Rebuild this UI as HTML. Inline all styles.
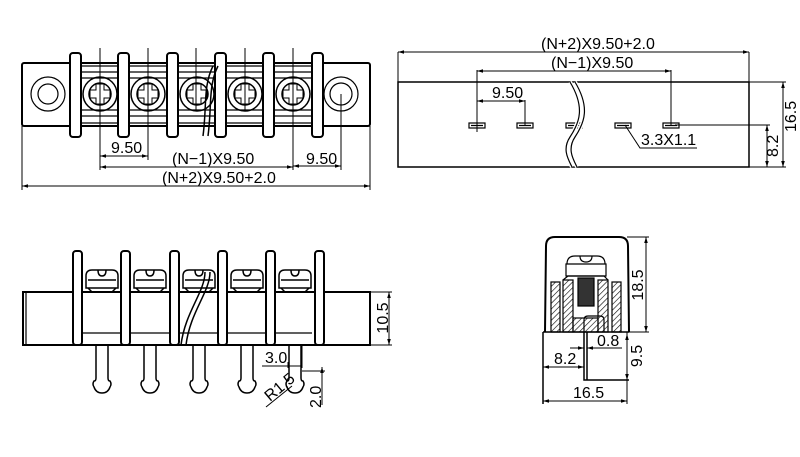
<!DOCTYPE html>
<html><head><style>body{margin:0;background:#fff}svg{display:block}text{font-family:"Liberation Sans",sans-serif;fill:#000}</style></head><body>
<svg width="800" height="457" viewBox="0 0 800 457" xmlns="http://www.w3.org/2000/svg" fill="none" stroke="#000" stroke-width="1.2">
<defs>
<pattern id="h" width="4" height="4" patternUnits="userSpaceOnUse" patternTransform="rotate(45)"><line x1="0" y1="0" x2="0" y2="4" stroke="#000" stroke-width="1.2"/></pattern>
<marker id="a" viewBox="0 0 10 10" refX="10" refY="5" markerWidth="6" markerHeight="6" orient="auto-start-reverse"><path d="M0,2L10,5L0,8" fill="#000" stroke="none"/></marker>
</defs>
<!-- TOP LEFT VIEW -->
<rect x="22" y="63" width="348" height="63" rx="2" stroke-width="2"/>
<line x1="70" y1="66" x2="323" y2="66"/><line x1="70" y1="123" x2="323" y2="123"/>
<line x1="82" y1="72" x2="312" y2="72"/><line x1="82" y1="78" x2="312" y2="78"/>
<line x1="82" y1="110" x2="312" y2="110"/><line x1="82" y1="116" x2="312" y2="116"/>
<circle cx="48" cy="94" r="17"/><circle cx="48" cy="94" r="10"/>
<circle cx="341" cy="94" r="17"/><circle cx="341" cy="94" r="11"/>
<g stroke-width="1.5">
<g id="sc"><circle cx="100" cy="94" r="17"/><circle cx="100" cy="94" r="11"/><path d="M96,84h8v6h6v8h-6v6h-8v-6h-6v-8h6z" stroke-width="1"/></g>
<use href="#sc" x="48"/><use href="#sc" x="97"/><use href="#sc" x="145"/><use href="#sc" x="193"/>
</g>
<g fill="#fff" stroke-width="2">
<rect x="70" y="53" width="11" height="84" rx="3"/><rect x="118" y="53" width="11" height="84" rx="3"/><rect x="167" y="53" width="11" height="84" rx="3"/><rect x="215" y="53" width="11" height="84" rx="3"/><rect x="263" y="53" width="11" height="84" rx="3"/><rect x="312" y="53" width="11" height="84" rx="3"/>
</g>
<path d="M218,66c-10,20 -6,40 -10,70M213,66c-10,20 -6,40 -10,70" stroke-width="1.5"/>
<g stroke-width="1">
<line x1="100" y1="48" x2="100" y2="170"/><line x1="148" y1="48" x2="148" y2="160"/><line x1="196" y1="48" x2="196" y2="110"/><line x1="245" y1="48" x2="245" y2="110"/><line x1="293" y1="48" x2="293" y2="170"/><line x1="341" y1="94" x2="341" y2="170"/>
<line x1="100" y1="156" x2="148" y2="156" marker-start="url(#a)" marker-end="url(#a)"/>
<line x1="100" y1="167" x2="293" y2="167" marker-start="url(#a)" marker-end="url(#a)"/>
<line x1="293" y1="166" x2="341" y2="166" marker-start="url(#a)" marker-end="url(#a)"/>
<line x1="22" y1="126" x2="22" y2="190"/><line x1="370" y1="126" x2="370" y2="190"/>
<line x1="22" y1="186" x2="370" y2="186" marker-start="url(#a)" marker-end="url(#a)"/>
</g>
<g stroke="none" font-size="16">
<text x="111" y="153">9.50</text><text x="172" y="164">(N−1)X9.50</text><text x="306" y="164">9.50</text><text x="162" y="183">(N+2)X9.50+2.0</text>
</g>
<!-- TOP RIGHT VIEW -->
<rect x="398" y="82" width="351" height="85" stroke-width="1.5"/>
<g stroke-width="1">
<line x1="398" y1="52" x2="398" y2="82"/><line x1="749" y1="52" x2="749" y2="167"/>
<line x1="398" y1="52" x2="749" y2="52" marker-start="url(#a)" marker-end="url(#a)"/>
<line x1="477" y1="70" x2="477" y2="132"/><line x1="671" y1="70" x2="671" y2="125"/>
<line x1="477" y1="71" x2="671" y2="71" marker-start="url(#a)" marker-end="url(#a)"/>
<line x1="525" y1="100" x2="525" y2="125"/>
<line x1="477" y1="101" x2="525" y2="101" marker-start="url(#a)" marker-end="url(#a)"/>
<line x1="675" y1="125" x2="770" y2="125"/><line x1="749" y1="82" x2="786" y2="82"/><line x1="749" y1="167" x2="786" y2="167"/>
<line x1="767" y1="125" x2="767" y2="167" marker-start="url(#a)" marker-end="url(#a)"/>
<line x1="783" y1="82" x2="783" y2="167" marker-start="url(#a)" marker-end="url(#a)"/>
<polyline points="625,125 640,148 697,148"/>
</g>
<g stroke-width="1.2">
<rect x="469" y="123" width="16" height="5"/><rect x="517" y="123" width="16" height="5"/><rect x="566" y="123" width="16" height="5"/><rect x="615" y="123" width="16" height="5"/><rect x="663" y="123" width="16" height="5"/>
<path d="M471,125.5h12M519,125.5h12M568,125.5h12M617,125.5h12M665,125.5h12"/>
</g>
<path d="M570,82c15,25 10,40 0,55c-8,12 -2,22 2,30M575,82c15,25 10,40 0,55c-8,12 -2,22 2,30" stroke="#fff" stroke-width="4"/>
<path d="M570,82c15,25 10,40 0,55c-8,12 -2,22 2,30M575,82c15,25 10,40 0,55c-8,12 -2,22 2,30" stroke-width="1.2"/>
<g stroke="none" font-size="16">
<text x="541" y="49">(N+2)X9.50+2.0</text><text x="551" y="68">(N−1)X9.50</text><text x="492" y="98">9.50</text><text x="641" y="145">3.3X1.1</text>
<text transform="translate(778,157) rotate(-90)">8.2</text><text transform="translate(796,132) rotate(-90)">16.5</text>
</g>
<!-- BOTTOM LEFT VIEW -->
<rect x="23" y="292" width="347" height="53" stroke-width="2"/>
<line x1="26" y1="292" x2="26" y2="345"/><line x1="82" y1="333" x2="312" y2="333"/>
<g stroke-width="1.5">
<g id="hd"><path d="M86,288v-12q0,-6 6,-6h20q6,0 6,6v12z" fill="#fff"/><path d="M88,280h28M98,270q0,6 4,6q4,0 4,-6M88,288l4,4h20l4,-4"/></g>
<use href="#hd" x="48"/><use href="#hd" x="97"/><use href="#hd" x="145"/><use href="#hd" x="193"/>
<g id="pn"><path d="M96,345v33q0,3 -2,3q-2,3 0,6q2,6 8,6q6,0 8,-6q2,-3 0,-6q-2,0 -2,-3v-33"/></g>
<use href="#pn" x="48"/><use href="#pn" x="97"/><use href="#pn" x="145"/><use href="#pn" x="193"/>
</g>
<g fill="#fff" stroke-width="2">
<rect x="73" y="251" width="9" height="94" rx="3"/><rect x="121" y="251" width="9" height="94" rx="3"/><rect x="170" y="251" width="9" height="94" rx="3"/><rect x="218" y="251" width="9" height="94" rx="3"/><rect x="266" y="251" width="9" height="94" rx="3"/><rect x="315" y="251" width="9" height="94" rx="3"/>
</g>
<path d="M210,272c0,20 -20,40 -24,73M205,272c0,20 -20,40 -24,73" stroke-width="1.5"/>
<g stroke-width="1">
<line x1="370" y1="292" x2="392" y2="292"/><line x1="370" y1="345" x2="392" y2="345"/>
<line x1="389" y1="292" x2="389" y2="345" marker-start="url(#a)" marker-end="url(#a)"/>
<line x1="288" y1="362" x2="288" y2="368"/><line x1="302" y1="345" x2="302" y2="368"/>
<line x1="262" y1="366" x2="302" y2="366"/>
<line x1="302" y1="371" x2="325" y2="371"/><line x1="322" y1="367" x2="322" y2="405" marker-start="url(#a)"/>
<line x1="266" y1="407" x2="292" y2="386"/>
</g>
<g stroke="none" font-size="16">
<text x="265" y="363">3.0</text>
<text transform="translate(388,318) rotate(-90)" text-anchor="middle">10.5</text>
<text transform="translate(321,408) rotate(-90)">2.0</text>
<text transform="translate(270,402) rotate(-40)">R1.5</text>
</g>
<!-- RIGHT VIEW -->
<path d="M545,332l1,-86q0,-9 9,-9h64q9,0 9,9l1,86" stroke-width="2"/>
<line x1="543" y1="332" x2="629" y2="332" stroke-width="1.5"/>
<g stroke-width="1.2">
<rect x="551" y="282" width="9" height="50" fill="url(#h)"/><rect x="612" y="282" width="9" height="50" fill="url(#h)"/>
<rect x="563" y="280" width="10" height="52" fill="url(#h)"/><rect x="598" y="280" width="10" height="52" fill="url(#h)"/>
<rect x="573" y="318" width="25" height="14" fill="url(#h)"/>
<path d="M566,264h40v12h-40z M567,264q0,-8 8,-8h22q8,0 8,8" fill="#fff"/>
<path d="M580,256q0,6 6,6q6,0 6,-6"/>
<rect x="578" y="278" width="16" height="28" fill="#333"/>
<path d="M563,280l5,-4h36l4,4"/>
<path d="M584,332v-12q0,-4 4,-4h12q4,0 4,4v12"/>
</g>
<g stroke-width="1.5">
<line x1="543" y1="332" x2="543" y2="404"/>
<path d="M584,332v48h45M587,332v48"/>
</g>
<g stroke-width="1">
<line x1="627" y1="237" x2="649" y2="237"/><line x1="646" y1="237" x2="646" y2="332" marker-start="url(#a)" marker-end="url(#a)"/>
<line x1="629" y1="332" x2="649" y2="332"/>
<line x1="627" y1="332" x2="627" y2="404"/>
<line x1="627" y1="334" x2="627" y2="380" marker-start="url(#a)" marker-end="url(#a)"/>
<line x1="543" y1="367" x2="584" y2="367" marker-start="url(#a)" marker-end="url(#a)"/>
<line x1="543" y1="401" x2="627" y2="401" marker-start="url(#a)" marker-end="url(#a)"/>
<line x1="570" y1="348" x2="584" y2="348" marker-end="url(#a)"/><line x1="587" y1="348" x2="622" y2="348" marker-start="url(#a)"/>
</g>
<g stroke="none" font-size="16">
<text x="597" y="346">0.8</text><text x="554" y="364">8.2</text><text x="573" y="398">16.5</text>
<text transform="translate(643,285) rotate(-90)" text-anchor="middle">18.5</text>
<text transform="translate(642,356) rotate(-90)" text-anchor="middle">9.5</text>
</g>
</svg>
</body></html>
